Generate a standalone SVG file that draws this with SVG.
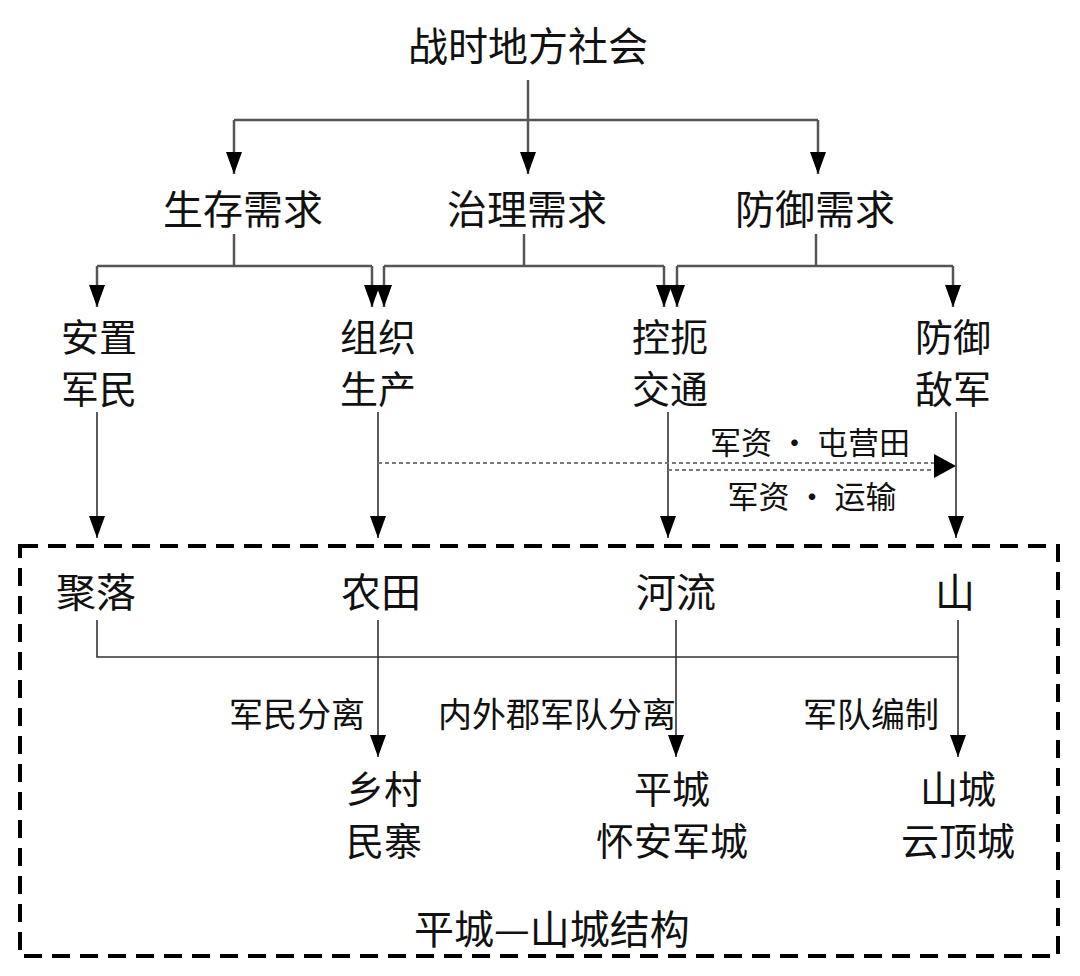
<svg xmlns="http://www.w3.org/2000/svg" width="1080" height="976" viewBox="0 0 1080 976">
<defs>
<style>
.t{font-family:"Noto Sans CJK SC","Noto Sans",sans-serif;fill:#111;text-anchor:middle;dominant-baseline:central}
.big{font-size:40px}
.two{font-size:38px}
.lab{font-size:34px}
.sm{font-size:31px}
.ln{stroke:#555;stroke-width:2.5;fill:none}
.ln2{stroke:#333;stroke-width:1.6;fill:none}
.dot{stroke:#777;stroke-width:2.2;stroke-dasharray:4 3;fill:none}
</style>
<marker id="ah" viewBox="0 0 22 16" refX="22" refY="8" markerWidth="22" markerHeight="16" markerUnits="userSpaceOnUse" orient="auto">
<path d="M0,0 L22,8 L0,16 z" fill="#000"/>
</marker>
</defs>
<rect width="1080" height="976" fill="#fff"/>
<g id="connectors">
<path class="ln" d="M528,80 V120"/>
<path class="ln" d="M234,120 H818"/>
<path class="ln" d="M234,120 V174" marker-end="url(#ah)"/>
<path class="ln" d="M528,120 V174" marker-end="url(#ah)"/>
<path class="ln" d="M818,120 V174" marker-end="url(#ah)"/>
<path class="ln" d="M234,234 V266"/>
<path class="ln" d="M97,266 H372"/>
<path class="ln" d="M97,266 V307" marker-end="url(#ah)"/>
<path class="ln" d="M372,266 V307" marker-end="url(#ah)"/>
<path class="ln" d="M524,234 V266"/>
<path class="ln" d="M384,266 H664"/>
<path class="ln" d="M384,266 V307" marker-end="url(#ah)"/>
<path class="ln" d="M664,266 V307" marker-end="url(#ah)"/>
<path class="ln" d="M816,234 V266"/>
<path class="ln" d="M677,266 H953"/>
<path class="ln" d="M677,266 V307" marker-end="url(#ah)"/>
<path class="ln" d="M953,266 V307" marker-end="url(#ah)"/>
<path class="ln2" d="M97,412 V538" marker-end="url(#ah)"/>
<path class="ln2" d="M378,412 V538" marker-end="url(#ah)"/>
<path class="ln2" d="M668,412 V538" marker-end="url(#ah)"/>
<path class="ln2" d="M956,412 V538" marker-end="url(#ah)"/>
<path class="dot" d="M378,463 H940"/>
<path class="dot" d="M668,470 H940"/>
<path d="M934,454 L956,466 L934,478 z" fill="#000"/>
<path class="ln2" d="M97,620 V657 H958"/>
<path class="ln2" d="M378,620 V757" marker-end="url(#ah)"/>
<path class="ln2" d="M676,620 V757" marker-end="url(#ah)"/>
<path class="ln2" d="M958,620 V757" marker-end="url(#ah)"/>
</g>
<g id="box"><rect x="20" y="546" width="1038" height="410" fill="none" stroke="#000" stroke-width="4" stroke-dasharray="18 10"/></g>
<g id="n-root"><text class="t big" x="528" y="44">战时地方社会</text></g>
<g id="n-survive"><text class="t big" x="243" y="207">生存需求</text></g>
<g id="n-govern"><text class="t big" x="527" y="207">治理需求</text></g>
<g id="n-defend"><text class="t big" x="815" y="207">防御需求</text></g>
<g id="n-anzhi"><text class="t two" x="99" y="334">安置</text><text class="t two" x="99" y="386">军民</text></g>
<g id="n-zuzhi"><text class="t two" x="378" y="334">组织</text><text class="t two" x="378" y="386">生产</text></g>
<g id="n-kong"><text class="t two" x="670" y="334">控扼</text><text class="t two" x="670" y="386">交通</text></g>
<g id="n-fangyu"><text class="t two" x="953" y="334">防御</text><text class="t two" x="953" y="386">敌军</text></g>
<g id="l-tun"><text class="t sm" x="810" y="440">军资 · 屯营田</text></g>
<g id="l-yun"><text class="t sm" x="812" y="494">军资 · 运输</text></g>
<g id="n-juluo"><text class="t big" x="96" y="590">聚落</text></g>
<g id="n-nongtian"><text class="t big" x="381" y="590">农田</text></g>
<g id="n-heliu"><text class="t big" x="676" y="590">河流</text></g>
<g id="n-shan"><text class="t big" x="955" y="590">山</text></g>
<g id="l-1"><text class="t lab" x="297" y="712">军民分离</text></g>
<g id="l-2"><text class="t lab" x="557" y="712">内外郡军队分离</text></g>
<g id="l-3"><text class="t lab" x="871" y="712">军队编制</text></g>
<g id="n-xiang"><text class="t two" x="384" y="786">乡村</text><text class="t two" x="384" y="838">民寨</text></g>
<g id="n-ping"><text class="t two" x="672" y="786">平城</text><text class="t two" x="672" y="838">怀安军城</text></g>
<g id="n-shancheng"><text class="t two" x="958" y="786">山城</text><text class="t two" x="958" y="838">云顶城</text></g>
<g id="n-struct"><text class="t big" x="552" y="927">平城—山城结构</text></g>
</svg>
